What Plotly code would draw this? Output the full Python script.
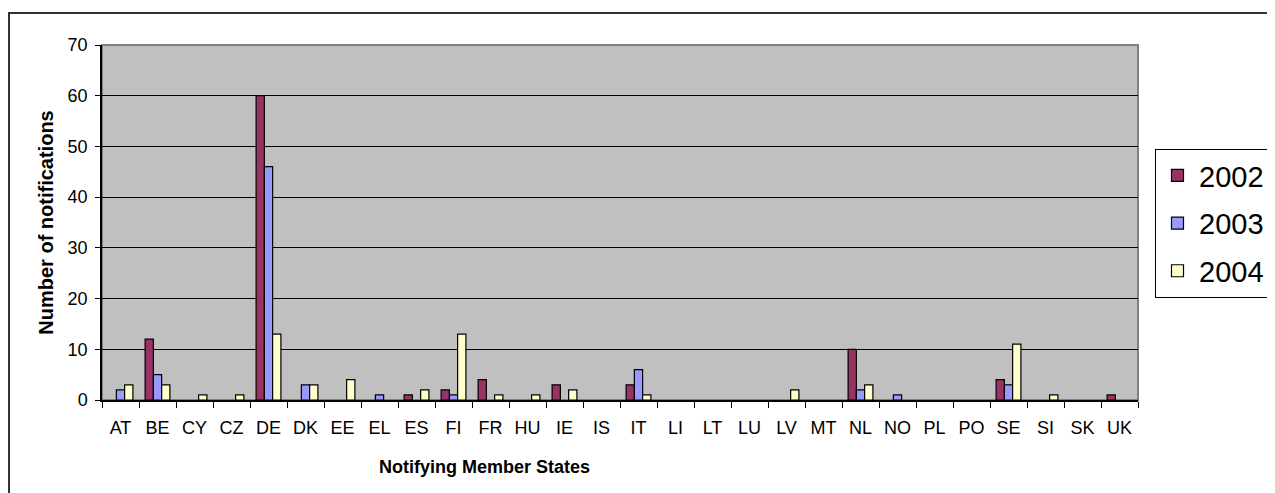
import plotly.graph_objects as go

categories = ["AT","BE","CY","CZ","DE","DK","EE","EL","ES","FI","FR","HU","IE","IS","IT",
              "LI","LT","LU","LV","MT","NL","NO","PL","PO","SE","SI","SK","UK"]
y2002 = [0,12,0,0,60,0,0,0,1,2,4,0,3,0,3,0,0,0,0,0,10,0,0,0,4,0,0,1]
y2003 = [2,5,0,0,46,3,0,1,0,1,0,0,0,0,6,0,0,0,0,0,2,1,0,0,3,0,0,0]
y2004 = [3,3,1,1,13,3,4,0,2,13,1,1,2,0,1,0,0,0,2,0,3,0,0,0,11,1,0,0]
series = [("2002", y2002, "#993366"), ("2003", y2003, "#9999FF"), ("2004", y2004, "#FFFFCC")]

OFF = 8  # browser body margin
W, H = 1275 - OFF, 493 - OFF
L, R, T, B = 102 - OFF, 1138 - OFF, 45 - OFF, 400 - OFF

fig = go.Figure()
for name, vals, col in series:
    fig.add_trace(go.Bar(x=categories, y=[v if v else None for v in vals], name=name,
                         marker_color=col, marker_line_color="black", marker_line_width=1.2,
                         legendgroup=name))

pw, ph = R - L, B - T
def px(x): return (x - OFF - L) / pw
def py(y): return (B - (y - OFF)) / ph

fig.update_layout(
    width=W, height=H,
    margin=dict(l=L, r=W - R, t=T, b=H - B, pad=0, autoexpand=False),
    paper_bgcolor="white", plot_bgcolor="#C0C0C0",
    barmode="group", bargap=0.33, bargroupgap=0,
    font=dict(family="Arial, Liberation Sans, sans-serif", color="black", size=18),
    showlegend=True,
    legend=dict(x=px(1155), y=py(149), xanchor="left", yanchor="top",
                bgcolor="white", bordercolor="black", borderwidth=1,
                font=dict(size=29), traceorder="grouped", tracegroupgap=7,
                itemwidth=33),
    xaxis=dict(showline=True, linecolor="black", linewidth=1.5, automargin=False,
               ticks="outside", ticklen=6, tickcolor="black", ticklabelstandoff=11,
               tickangle=0, showgrid=False, tickson="boundaries"),
    yaxis=dict(title=dict(text="<b>Number of notifications</b>", font=dict(size=20), standoff=9),
               range=[0, 70], dtick=10, showline=True, linecolor="black", linewidth=1.5,
               automargin=False,
               ticks="outside", ticklen=5, tickcolor="black", ticklabelstandoff=4,
               showgrid=True, gridcolor="black", gridwidth=1, zeroline=False),
    annotations=[dict(text="<b>Notifying Member States</b>", xref="paper", yref="paper",
                      x=px(484), y=py(467), xanchor="center", yanchor="middle",
                      showarrow=False, font=dict(size=18))],
    shapes=[
        dict(type="rect", xref="paper", yref="paper", x0=0, x1=1, y0=0, y1=1,
             line=dict(color="#808080", width=2), layer="below"),
        dict(type="rect", xref="paper", yref="paper", x0=px(9), x1=px(1300), y0=py(520), y1=py(13),
             line=dict(color="#333333", width=2), fillcolor="rgba(0,0,0,0)"),
    ],
)
fig.write_html("out.html")
